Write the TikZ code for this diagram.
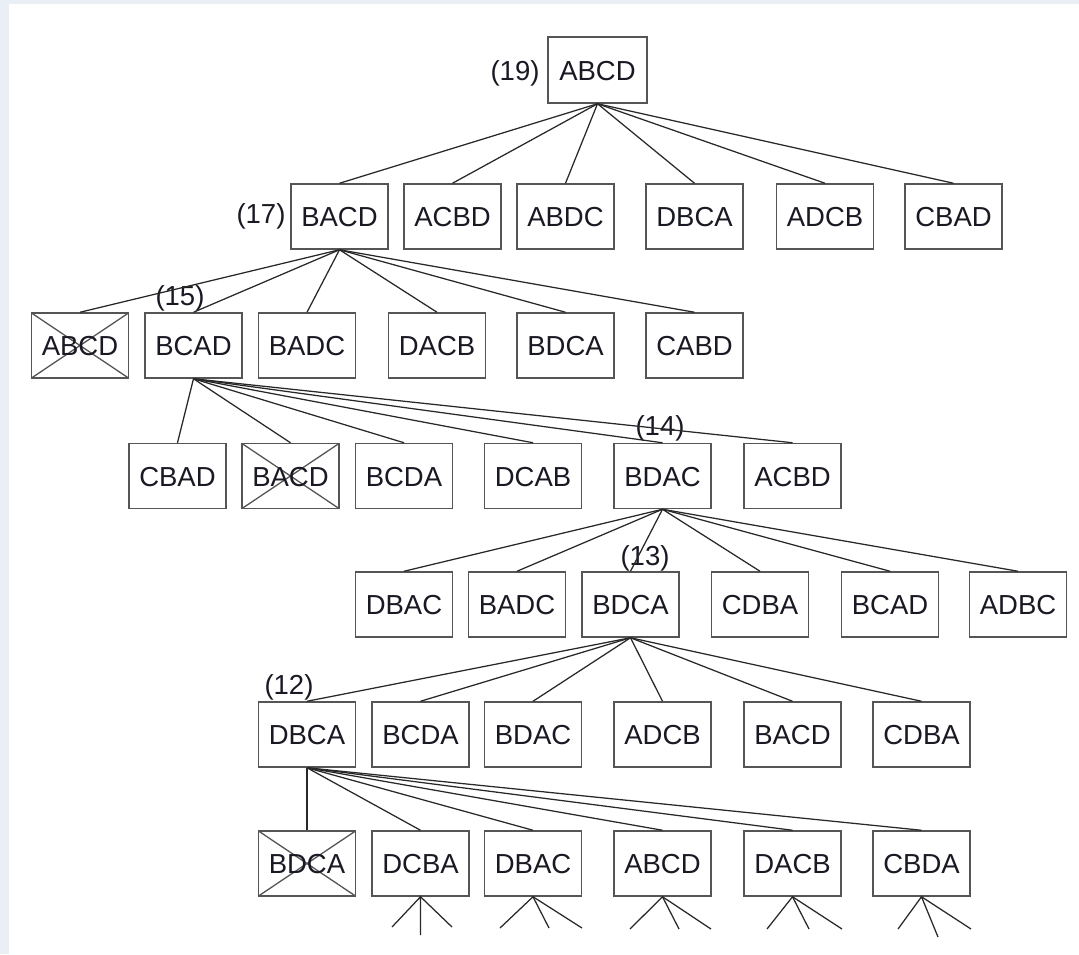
\documentclass[tikz,border=0pt]{standalone}
\usepackage{fontspec}
\setmainfont{Liberation Sans}
\definecolor{bgblue}{RGB}{234,239,246}
\definecolor{boxline}{RGB}{85,85,85}
\definecolor{edgeline}{RGB}{40,40,40}
\definecolor{txt}{RGB}{25,25,35}
\begin{document}
\begin{tikzpicture}[x=1pt,y=-1pt,
  box/.style={draw=boxline, line width=1.5pt, fill=white, minimum width=97pt, minimum height=65pt,
    inner sep=0pt, text=txt, font=\fontsize{27.5}{30}\selectfont, text height=20pt, text depth=0pt},
  crossed/.style={box, path picture={\draw[boxline, line width=1.3pt]
      (path picture bounding box.north west) -- (path picture bounding box.south east)
      (path picture bounding box.north east) -- (path picture bounding box.south west);}},
  lbl/.style={inner sep=0pt, text=txt, font=\fontsize{27.5}{30}\selectfont, text height=20pt, text depth=6pt},
  edge/.style={draw=edgeline, line width=1.25pt}]
\useasboundingbox (0,0) rectangle (1079,954);
\fill[bgblue] (0,0) rectangle (1079,954);
\fill[white] (9,4) rectangle (1079,954);

% level 0
\node[box, minimum width=99pt, minimum height=66pt] (r) at (597.5,70) {ABCD};
% level 1
\node[box] (a1) at (339.5,216.5) {BACD};
\node[box] (a2) at (452.5,216.5) {ACBD};
\node[box] (a3) at (565.5,216.5) {ABDC};
\node[box] (a4) at (694.5,216.5) {DBCA};
\node[box] (a5) at (825,216.5) {ADCB};
\node[box] (a6) at (953.5,216.5) {CBAD};
% level 2
\node[crossed] (b1) at (80,345.5) {ABCD};
\node[box] (b2) at (193.5,345.5) {BCAD};
\node[box] (b3) at (307,345.5) {BADC};
\node[box] (b4) at (437,345.5) {DACB};
\node[box] (b5) at (565.5,345.5) {BDCA};
\node[box] (b6) at (694.5,345.5) {CABD};
% level 3
\node[box] (c1) at (177.5,476) {CBAD};
\node[crossed] (c2) at (290.5,476) {BACD};
\node[box] (c3) at (404,476) {BCDA};
\node[box] (c4) at (533,476) {DCAB};
\node[box] (c5) at (662.5,476) {BDAC};
\node[box] (c6) at (792.5,476) {ACBD};
% level 4
\node[box] (d1) at (404,604.5) {DBAC};
\node[box] (d2) at (517,604.5) {BADC};
\node[box] (d3) at (630.5,604.5) {BDCA};
\node[box] (d4) at (760,604.5) {CDBA};
\node[box] (d5) at (890,604.5) {BCAD};
\node[box] (d6) at (1018,604.5) {ADBC};
% level 5
\node[box] (e1) at (307,734.5) {DBCA};
\node[box] (e2) at (420.5,734.5) {BCDA};
\node[box] (e3) at (533,734.5) {BDAC};
\node[box] (e4) at (662.5,734.5) {ADCB};
\node[box] (e5) at (792.5,734.5) {BACD};
\node[box] (e6) at (921.5,734.5) {CDBA};
% level 6
\node[crossed] (f1) at (307,863.5) {BDCA};
\node[box] (f2) at (420.5,863.5) {DCBA};
\node[box] (f3) at (533,863.5) {DBAC};
\node[box] (f4) at (662.5,863.5) {ABCD};
\node[box] (f5) at (792.5,863.5) {DACB};
\node[box] (f6) at (921.5,863.5) {CBDA};

% labels
\node[lbl] (l19) at (515,73) {(19)};
\node[lbl] (l17) at (261,216) {(17)};
\node[lbl] (l15) at (180,298) {(15)};
\node[lbl] (l14) at (660,428) {(14)};
\node[lbl] (l13) at (645,558) {(13)};
\node[lbl] (l12) at (289,687) {(12)};

% edges
\foreach \p/\k in {r/a, a1/b, b2/c, c5/d, d3/e, e1/f}{
  \foreach \i in {1,...,6}{
    \draw[edge] (\p.south) -- (\k\i.north);
  }
}

% stubs
\coordinate (s2a) at (392,927); \coordinate (s2b) at (420.5,935); \coordinate (s2c) at (452,927);
\coordinate (s3a) at (500,928); \coordinate (s3b) at (549,928); \coordinate (s3c) at (582,928);
\coordinate (s4a) at (630,929); \coordinate (s4b) at (679,929); \coordinate (s4c) at (711,929);
\coordinate (s5a) at (767,929); \coordinate (s5b) at (809,929); \coordinate (s5c) at (842,929);
\coordinate (s6a) at (898,929); \coordinate (s6b) at (938,937); \coordinate (s6c) at (971,929);
\foreach \i in {2,...,6}{
  \draw[edge] (s\i a) -- (f\i.south) -- (s\i b);
  \draw[edge] (f\i.south) -- (s\i c);
}
\end{tikzpicture}
\end{document}
